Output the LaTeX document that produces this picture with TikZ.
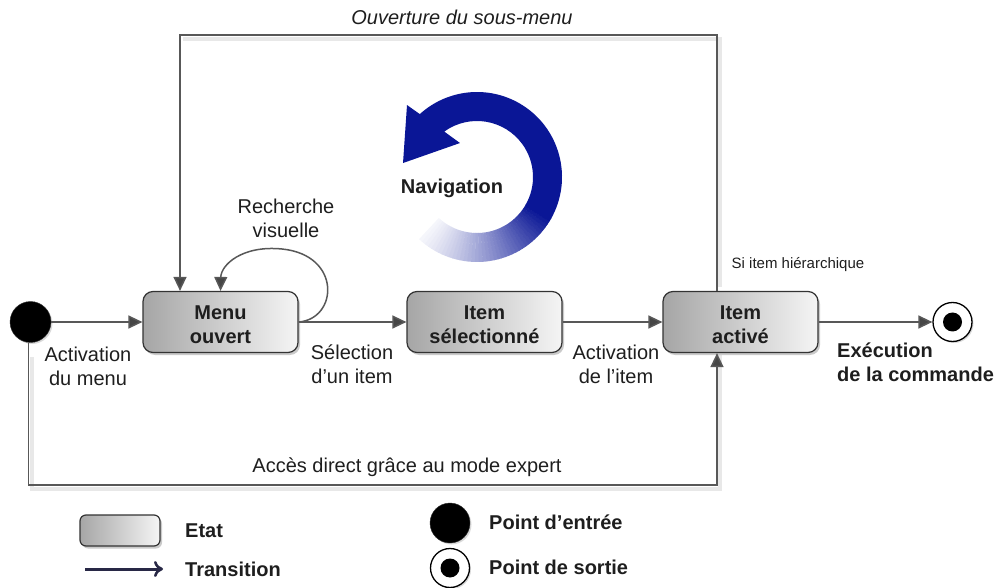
\documentclass[tikz,border=0pt]{standalone}
\usepackage{fontspec}
\setmainfont{Liberation Sans}
\usetikzlibrary{arrows.meta,shadows,calc}
\definecolor{navblue}{RGB}{10,22,150}
\definecolor{linegray}{RGB}{88,88,88}
\definecolor{headgray}{RGB}{70,70,70}
\definecolor{txt}{RGB}{30,30,30}
\definecolor{legarrow}{RGB}{40,40,70}
\tikzset{
  every node/.style={font=\fontsize{20}{24}\selectfont, text=txt},
  statebox/.style={rounded corners=10pt, draw=black!80, line width=1.2pt,
    left color=black!35, right color=black!4, minimum width=155pt, minimum height=61pt,
    align=center, font=\fontsize{20}{24}\selectfont\bfseries,
    drop shadow={shadow xshift=2pt, shadow yshift=-2.5pt, opacity=0.35, fill=black!60}},
  boxtext/.style={text height=43pt},
  tr/.style={draw=linegray, line width=1.5pt,
    -{Triangle[length=14pt,width=13pt,fill=headgray]}},
  framesh/.style={draw=black!9, line width=4pt},
  lbl/.style={align=center, inner sep=0pt},
  entrydot/.style={circle, fill=black, draw=black!80, minimum size=41pt, inner sep=0pt,
    drop shadow={shadow xshift=1.5pt, shadow yshift=-1.5pt, opacity=0.3}},
  exitdot/.style={circle, fill=white, draw=black, line width=1.3pt, minimum size=39pt, inner sep=0pt,
    drop shadow={shadow xshift=1.5pt, shadow yshift=-1.5pt, opacity=0.3}},
}
\begin{document}
\begin{tikzpicture}[x=1pt,y=1pt]
\useasboundingbox (0,0) rectangle (1001,587);

% coordinates for frame corners
\coordinate (ctl) at (180,552);
\coordinate (ctr) at (717,552);
\coordinate (cbl) at (28.5,102);
\coordinate (cbr) at (717,102);

% soft shadows of the frame lines
\draw[framesh] (183,548) -- (720,548) -- (720,300);
\draw[framesh] (31.5,230) -- (31.5,98) -- (720,98) -- (720,232);

% states
\node[statebox, boxtext] (menu) at (220.5,265) {Menu\\ouvert};
\node[statebox, boxtext] (isel) at (484.5,265) {Item\\sélectionné};
\node[statebox, boxtext] (iact) at (740.5,265) {Item\\activé};

% entry / exit
\node[entrydot] (entry) at (30.5,265) {};
\node[exitdot] (exit) at (952.5,265) {};
\fill[black] (exit.center) circle[radius=9.5];

% transitions
\draw[tr] (entry) -- (menu);
\draw[tr] (menu) -- (isel);
\draw[tr] (isel) -- (iact);
\draw[tr] (iact) -- (exit);
\draw[tr] (iact.north -| ctr) -- (ctr) -- (ctl) -- (menu.north -| ctl);
\draw[tr] (entry.south -| cbl) -- (cbl) -- (cbr) -- (iact.south -| cbr);
\draw[tr] (menu.east) .. controls (338,268) and (342,332) .. (282,338)
  .. controls (242,342) and (221,322) .. (menu.north);

% labels
\node[lbl, font=\fontsize{20}{24}\selectfont\itshape] (lsub) at (462,570) {Ouverture du sous-menu};
\node[lbl] (lrech) at (286,369) {Recherche\\visuelle};
\node[lbl] (lact) at (88,221) {Activation\\du menu};
\node[lbl] (lsel) at (352,223) {Sélection\\d'un item};
\node[lbl] (litem) at (616,223) {Activation\\de l'item};
\node[lbl, font=\fontsize{15}{18}\selectfont] (lhier) at (798,322) {Si item hiérarchique};
\node[lbl, anchor=west, align=left, font=\fontsize{20}{24}\selectfont\bfseries] (lexec) at (837,225) {Exécution\\de la commande};
\node[lbl] (lexp) at (407,120) {Accès direct grâce au mode expert};

% navigation arrow
\begin{scope}[shift={(477,410)}]
  \fill[navblue] (330:85) arc[start angle=330, end angle=492.3, radius=85]
    -- (134.2:100.4) -- (169.3:75.3) -- (116.6:38) -- (125.8:56)
    arc[start angle=485.8, end angle=330, radius=56] -- cycle;
  \foreach \i in {0,...,39}{
    \pgfmathsetmacro{\aa}{227+\i*2.6}
    \pgfmathsetmacro{\ab}{\aa+2.9}
    \pgfmathsetmacro{\pp}{4+96*(\i/39)^1.2}
    \fill[navblue!\pp!white] (\aa:85) arc[start angle=\aa, end angle=\ab, radius=85]
      -- (\ab:56) arc[start angle=\ab, end angle=\aa, radius=56] -- cycle;
  }
\end{scope}
\node[lbl, font=\fontsize{20}{24}\selectfont\bfseries] (lnav) at (452,399) {Navigation};

% legend
\node[statebox, minimum width=80pt, minimum height=31pt, rounded corners=6pt] (legstate) at (120,56.5) {};
\node[lbl, anchor=west, font=\fontsize{20}{24}\selectfont\bfseries] (lgetat) at (185,56) {Etat};
\coordinate (la1) at (85,18);
\coordinate (la2) at (163,18);
\draw[legarrow, line width=3pt, -{To[length=9pt,width=16pt,line width=2.6pt]}] (la1) -- (la2);
\node[lbl, anchor=west, font=\fontsize{20}{24}\selectfont\bfseries] (lgtr) at (185,18) {Transition};
\node[entrydot, minimum size=40pt] (legentry) at (450,64) {};
\node[lbl, anchor=west, font=\fontsize{20}{24}\selectfont\bfseries] (lgen) at (489,65) {Point d'entrée};
\node[exitdot] (legexit) at (450,19) {};
\fill[black] (legexit.center) circle[radius=9.5];
\node[lbl, anchor=west, font=\fontsize{20}{24}\selectfont\bfseries] (lgex) at (489,20) {Point de sortie};
\end{tikzpicture}
\end{document}
